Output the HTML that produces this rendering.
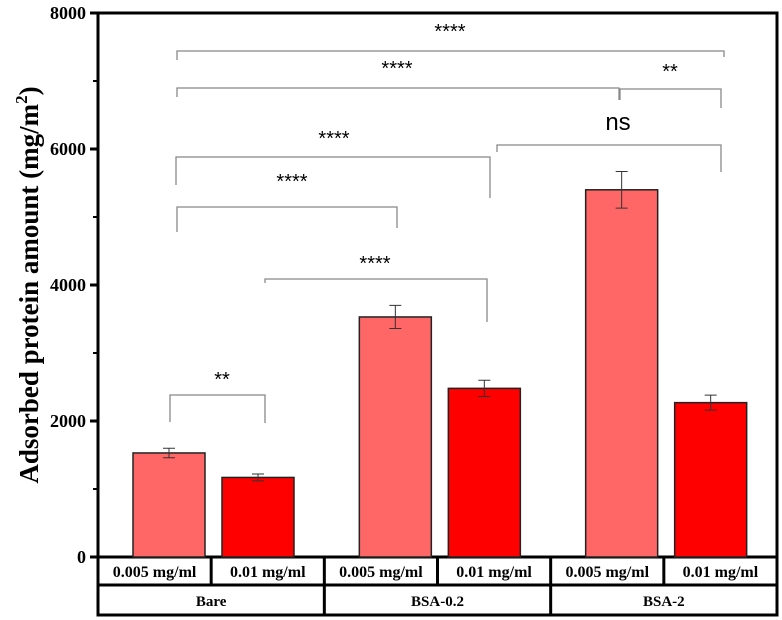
<!DOCTYPE html>
<html><head><meta charset="utf-8"><style>
html,body{margin:0;padding:0;background:#fff;width:782px;height:620px;overflow:hidden}
svg text{font-family:"Liberation Serif",serif}
</style></head><body>
<svg id="chart" width="782" height="620" viewBox="0 0 782 620" xmlns="http://www.w3.org/2000/svg">
<g id="frame"></g><g id="bars"></g><g id="ann"></g><g id="table"></g>
</svg>
<script>
const groups = ["Bare","BSA-0.2","BSA-2"];
const concentrations = ["0.005 mg/ml","0.01 mg/ml"];
const values005 = [1530, 3530, 5400];
const values01 = [1170, 2480, 2270];
const errors005 = [70, 170, 270];
const errors01 = [50, 120, 110];
const yTicks = [0, 2000, 4000, 6000, 8000];

const NS="http://www.w3.org/2000/svg";
const X0=98, X1=777, Y0=557, YTOP=13, YMAX=8000;
const y = v => Y0 - v/YMAX*(Y0-YTOP);
const groupW=(X1-X0)/3;
const barX = (g,s) => X0 + g*groupW + 35 + s*89;
const BW=72;
function mk(tag, attrs, parent, txt){const e=document.createElementNS(NS,tag);for(const k in attrs)e.setAttribute(k,attrs[k]);if(txt!==undefined)e.textContent=txt;parent.appendChild(e);return e;}
const frame=document.getElementById('frame'), bars=document.getElementById('bars'), ann=document.getElementById('ann'), table=document.getElementById('table');

let f=mk('rect',{x:X0,y:YTOP,width:X1-X0,height:Y0-YTOP,fill:'none',stroke:'#000','stroke-width':3},frame);


yTicks.forEach(t=>{
  let l=mk('line',{x1:X0-8,x2:X0,y1:y(t),y2:y(t),stroke:'#000','stroke-width':3},frame);
  
  
  let tx=mk('text',{x:X0-12,y:y(t)+6,'text-anchor':'end','font-size':18,'font-weight':'bold'},frame,t);
  
  
});
for(let i=0;i<4;i++){const v=1000+i*2000;
  let l=mk('line',{x1:X0-5,x2:X0,y1:y(v),y2:y(v),stroke:'#000','stroke-width':2},frame);
  
  
}
let yt=mk('text',{x:0,y:0,transform:'translate(38,285) rotate(-90)','text-anchor':'middle','font-size':27,'font-weight':'bold'},frame);


yt.innerHTML='Adsorbed protein amount (mg/m<tspan dy="-11" font-size="17">2</tspan><tspan dy="11">)</tspan>';

[values005,values01].forEach((vals,s)=>{
  const errs=s?errors01:errors005;
  vals.forEach((v,g)=>{
    const x=barX(g,s);
    let r=mk('rect',{x:x,y:y(v),width:BW,height:Y0-y(v),fill:s?'#ff0000':'#ff6666',stroke:'#222','stroke-width':1.5},bars);
    
    
    const cx=x+BW/2, e=errs[g];
    let eb=mk('path',{d:`M${cx-6},${y(v+e)}H${cx+6}M${cx},${y(v+e)}V${y(v-e)}M${cx-6},${y(v-e)}H${cx+6}`,stroke:'#333','stroke-width':1,fill:'none'},bars);
    
    
  });
});

const brackets=[
 {x1:170,x2:265,y:395,l1:422,l2:423,t:'**',tx:222,ty:386},
 {x1:265,x2:487,y:279,l1:283,l2:322,t:'****',tx:375,ty:270},
 {x1:177,x2:397,y:207,l1:232,l2:228,t:'****',tx:292,ty:188},
 {x1:176,x2:490,y:157,l1:185,l2:198,t:'****',tx:334,ty:145},
 {x1:497,x2:721,y:145,l1:152,l2:172,t:'ns',tx:618,ty:130,ns:true},
 {x1:177,x2:619,y:88,l1:97,l2:100,t:'****',tx:397,ty:75},
 {x1:620,x2:721,y:89,l1:100,l2:108,t:'**',tx:670,ty:78},
 {x1:177,x2:724,y:51,l1:60,l2:57,t:'****',tx:450,ty:38}
];
brackets.forEach(b=>{
  let p=mk('path',{d:`M${b.x1},${b.l1}V${b.y}H${b.x2}V${b.l2}`,stroke:'#888','stroke-width':1.3,fill:'none'},ann);
  
  
  let t=mk('text',{x:b.tx,y:b.ty,'text-anchor':'middle','font-size':b.ns?24:20,style:'font-family:"Liberation Sans",sans-serif'},ann,b.t);
  
  
});

let tb=mk('path',{d:`M${X0},${Y0}V615H${X1}V${Y0}M${X0},585H${X1}`,stroke:'#000','stroke-width':3,fill:'none'},table);


groups.forEach((g,i)=>{
  const gx=X0+i*groupW;
  if(i>0){let l=mk('line',{x1:gx,x2:gx,y1:Y0,y2:615,stroke:'#000','stroke-width':3},table);
    
    }
  let l2=mk('line',{x1:gx+groupW/2,x2:gx+groupW/2,y1:Y0,y2:585,stroke:'#000','stroke-width':3},table);
  
  
  concentrations.forEach((c,s)=>{
    let t=mk('text',{x:gx+groupW/4+s*groupW/2,y:577,'text-anchor':'middle','font-size':16,'font-weight':'bold'},table,c);
    
    
  });
  let t=mk('text',{x:gx+groupW/2,y:606,'text-anchor':'middle','font-size':15,'font-weight':'bold'},table,g);
  
  
});
</script>
</body></html>
